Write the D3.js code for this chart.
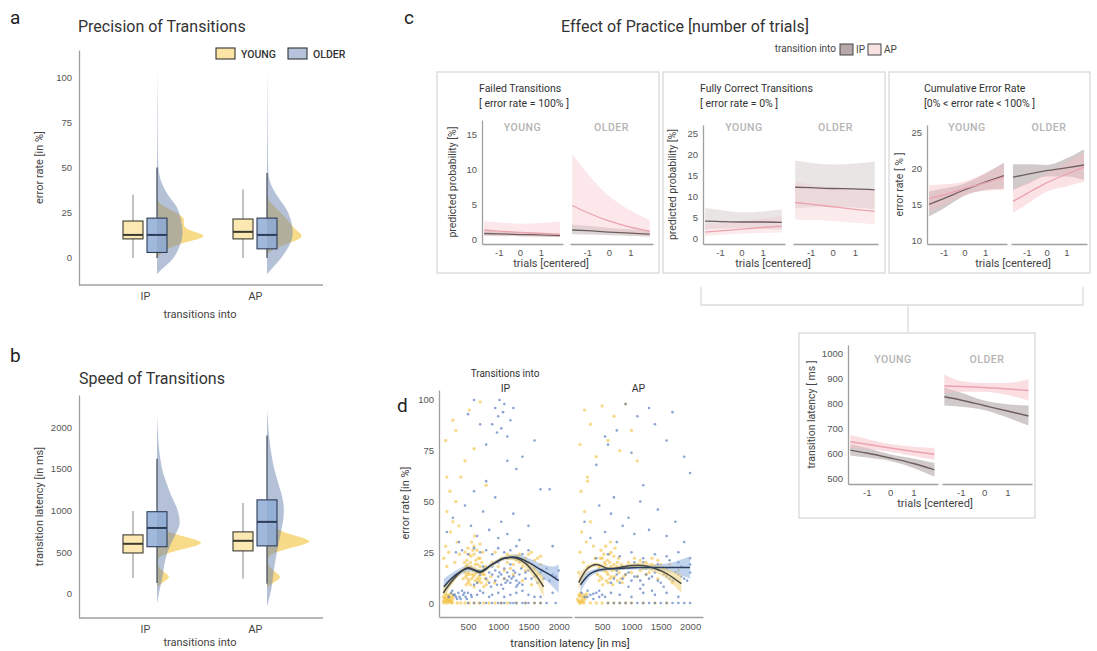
<!DOCTYPE html>
<html>
<head>
<meta charset="utf-8">
<script src="https://cdn.jsdelivr.net/npm/d3@7"></script>
<style>
  body { margin: 0; background: #fff; }
  svg { display: block; font-family: Roboto, "Noto Sans", sans-serif; }
</style>
</head>
<body>
<div id="chart"></div>
<script>
// ---------- data ----------
const transitions = ["IP", "AP"];
const groups = ["YOUNG", "OLDER"];

// panel a: error rate box stats [lower whisker, q1, median, q3, upper whisker]
const errBoxYoung = [[0, 10.5, 12.7, 20.4, 35], [0, 10.5, 14.4, 21.5, 38]];
const errBoxOlder = [[0, 3, 12.7, 22, 50], [0, 5, 12.7, 22, 47]];
// half violin densities [value, relative density]
const errDensYoung = [
  [[0,0],[4,0.25],[8,0.9],[10,1.5],[12,1.92],[14,1.55],[16,1.1],[19,1.0],[22,1.08],[25,0.75],[28,0.3],[31,0.05],[33,0]],
  [[2,0],[5,0.3],[8,0.8],[10,1.2],[12,1.38],[14,1.25],[17,1.0],[20,0.85],[24,0.6],[28,0.3],[32,0.05],[35,0]]
];
const errDensOlder = [
  [[-9,0],[-6,0.2],[-3,0.45],[0,0.65],[4,0.8],[8,0.92],[13,1.0],[18,0.97],[24,0.88],[29,0.75],[33,0.5],[37,0.33],[42,0.15],[47,0.07],[52,0.04],[60,0.03],[75,0.02],[90,0.015],[104,0]],
  [[-9,0],[-5,0.25],[0,0.55],[5,0.8],[10,0.97],[14,1.0],[20,0.95],[26,0.8],[30,0.6],[35,0.35],[40,0.15],[45,0.06],[50,0.04],[60,0.03],[80,0.02],[104,0]]
];
const errTicks = [0, 25, 50, 75, 100];

// panel b: transition latency
const latBoxYoung = [[190, 490, 600, 707, 995], [180, 515, 636, 743, 1090]];
const latBoxOlder = [[130, 565, 790, 985, 1620], [120, 575, 863, 1127, 1900]];
const latDensYoung = [
  [[80,0],[130,0.2],[200,0.65],[260,0.3],[320,0.05],[400,0.02],[450,0.1],[500,0.6],[560,1.5],[610,2.09],[660,1.6],[720,0.7],[780,0.2],[850,0.05],[950,0]],
  [[80,0],[130,0.25],[200,0.7],[260,0.35],[330,0.05],[420,0.03],[480,0.15],[540,0.9],[600,1.7],[630,1.96],[680,1.5],[740,0.7],[800,0.25],[880,0.05],[950,0]]
];
const latDensOlder = [
  [[-120,0],[0,0.08],[100,0.15],[200,0.25],[300,0.28],[400,0.35],[500,0.45],[600,0.6],[700,0.78],[800,0.97],[870,1.0],[950,0.95],[1050,0.85],[1150,0.65],[1300,0.45],[1450,0.25],[1600,0.15],[1750,0.08],[1900,0.04],[2150,0]],
  [[-150,0],[0,0.15],[100,0.22],[300,0.3],[500,0.43],[700,0.57],[900,0.74],[1100,0.74],[1300,0.52],[1500,0.3],[1700,0.17],[1900,0.08],[2100,0.03],[2200,0]]
];
const latTicks = [0, 500, 1000, 1500, 2000];

// panel c: model predictions over centered trials
const trialPts = [-1.7, -1, 0, 1, 1.9];
const trialTicks = [-1, 0, 1];
const failYoungIP = { fit: [0.9,0.85,0.75,0.7,0.6], lo: [0.6,0.55,0.5,0.45,0.4], hi: [1.3,1.2,1.1,1.0,0.9] };
const failYoungAP = { fit: [1.4,1.25,1.05,0.9,0.8], lo: [0.6,0.55,0.5,0.45,0.4], hi: [2.7,2.5,2.3,2.4,2.6] };
const failOlderIP = { fit: [1.4,1.3,1.1,0.95,0.8], lo: [0.8,0.75,0.65,0.55,0.45], hi: [2.2,2.0,1.7,1.5,1.4] };
const failOlderAP = { fit: [4.9,3.9,2.7,1.8,1.2], lo: [1.8,1.6,1.2,0.8,0.5], hi: [12.3,9.5,6.3,4.2,2.8] };
const failTicks = [0, 5, 10, 15];

const corrYoungIP = { fit: [4.2,4.1,4.0,4.0,3.9], lo: [2.2,2.4,2.5,2.4,2.2], hi: [7.3,6.8,6.3,6.5,7.0] };
const corrYoungAP = { fit: [1.6,1.9,2.3,2.7,3.0], lo: [0.7,0.9,1.2,1.4,1.5], hi: [3.5,3.8,4.2,4.8,5.5] };
const corrOlderIP = { fit: [12.2,12.1,11.9,11.8,11.6], lo: [7.2,7.5,7.6,7.4,7.0], hi: [18.5,18.0,17.6,17.8,18.3] };
const corrOlderAP = { fit: [8.6,8.2,7.6,7.0,6.5], lo: [4.6,4.5,4.2,3.8,3.4], hi: [13.5,12.8,12.0,11.7,11.6] };
const corrTicks = [0, 5, 10, 15, 20, 25];

const cumYoungIP = { fit: [15.0,15.8,17.0,18.1,19.0], lo: [13.3,14.4,16.2,17.0,17.2], hi: [16.8,17.2,17.9,19.3,20.8] };
const cumYoungAP = { fit: [15.8,16.3,17.2,18.0,18.8], lo: [14.0,14.9,16.3,16.9,17.0], hi: [17.7,17.8,18.2,19.3,20.6] };
const cumOlderIP = { fit: [18.8,19.2,19.7,20.1,20.5], lo: [17.0,17.8,18.9,18.9,18.4], hi: [20.6,20.6,20.5,21.4,22.7] };
const cumOlderAP = { fit: [15.4,16.5,18.0,19.2,20.2], lo: [13.8,15.0,16.8,17.5,18.2], hi: [17.1,18.0,19.3,20.8,22.2] };
const cumTicks = [10, 15, 20, 25];

const latYoungIP = { fit: [612,600,580,558,533], lo: [590,582,568,540,505], hi: [635,620,595,578,560] };
const latYoungAP = { fit: [645,635,620,606,595], lo: [620,615,605,588,573], hi: [672,656,636,625,620] };
const latOlderIP = { fit: [825,812,790,768,748], lo: [790,785,772,742,710], hi: [862,842,810,795,790] };
const latOlderAP = { fit: [868,866,862,856,850], lo: [838,845,845,832,810], hi: [915,888,880,880,895] };
const practiceLatTicks = [500, 600, 700, 800, 900, 1000];

// panel d: single observations [latency ms, error %]
const dIPYoung = [
  [90,1],[110,3],[130,0.5],[150,2],[170,4],[190,1],[210,3],[230,0],[250,2],[120,5],[160,0],[200,1.5],[140,2.5],[180,3.5],[220,1],[100,0],[260,4],[240,0.5],
  [90,3],[115,2],[135,4],[165,1],[195,2.5],[215,4.5],[245,3],[125,1],[175,2],[205,0.5],
  [320,0],[380,0],[450,0],[520,0],[600,0],[680,0],[760,0],[850,0],[950,0],[1050,0],[1150,0],[1300,0],[1450,0],[1600,0],[1700,0],
  [420,12],[450,15],[470,18],[500,10],[520,14],[540,20],[560,12],[580,16],[600,24],[620,11],[640,15],[660,19],[680,13],[700,22],[720,10],[740,14],[760,17],[780,12],[800,9],
  [430,16],[460,13],[490,19],[510,15],[550,18],[570,14],[610,17],[650,12],[670,22],[710,15],[730,20],[770,14],[790,18],[440,20],[480,14],[520,24],[580,26],[620,19],[660,16],[700,18],[490,12],[540,9],[610,14],[680,11],
  [450,25],[500,27],[550,23],[600,28],[650,26],[700,29],[480,21],[530,17],[590,13],[630,21],[690,16],[740,25],[560,30],[610,33],[470,9],[520,11],[600,8],[660,10],[700,12],[760,8],[820,11],[880,13],[940,10],
  [100,22],[130,28],[150,18],[180,25],[210,35],[250,40],[280,20],[320,30],[360,24],[150,45],[200,55],[300,50],[350,38],
  [130,80],[250,90],[380,62],[450,70],[520,95],[600,76],[700,99],[150,62],[300,85],[800,58],
  [1000,18],[1050,22],[1100,16],[1150,20],[1200,23],[1250,19],[1300,21],[1350,24],[1400,18],[1450,22],[1500,20],[1550,25],[1600,17],[1650,22],[1700,19],[1100,12],[1250,14],[1400,11],[1550,9],[900,20],[950,25],
  [1200,17],[1300,23],[1400,21],[1500,24],[1600,21],[1700,23],[1150,24],[1350,20],[1450,16],[1650,14]
];
const dIPOlder = [
  [180,3],[220,5],[260,4],[300,3],[340,5],[380,2],[420,4],[460,3],[500,5],[240,6],[320,2],[400,6],
  [280,4],[360,3],[440,5],[480,2],[560,3],[650,4],[750,5],[900,4],[1100,3],[1300,5],[1500,4],[1700,3],[1900,5],
  [500,0],[600,0],[700,0],[800,0],[900,0],[1000,0],[1100,0],[1200,0],[1300,0],[1400,0],[1500,0],[1600,0],[1700,0],[1800,0],[1950,0],[1050,0],[1250,0],[1450,0],
  [800,12],[850,10],[900,14],[950,11],[1000,13],[1050,9],[1100,12],[1150,15],[1200,10],[1250,13],[1300,11],[1350,14],[1400,9],[1450,12],[1500,16],[900,18],[1000,20],[1100,17],[1200,19],[1300,8],[700,14],[650,10],[750,18],[600,9],[1600,13],[1700,15],[1800,17],[1900,14],[2000,16],
  [850,15],[950,16],[1050,14],[1150,11],[1250,16],[1350,10],[1450,15],[1550,12],[1650,10],[1750,12],[1850,11],[1950,13],[880,8],[980,9],[1080,7],[1180,13],[1280,15],[1380,17],[1020,15],[1120,10],[1220,12],[1320,9],
  [300,25],[400,26],[500,24],[600,27],[700,25],[800,26],[900,24],[1000,27],[1100,25],[1200,26],[1300,28],[1400,24],[1500,26],
  [150,35],[250,42],[350,30],[450,48],[550,38],[650,33],[750,45],[850,36],[950,52],[1050,40],[1150,34],[1250,44],[1350,31],[1500,38],[1700,56],[1900,28],[600,55],[800,60],[1000,32],
  [900,88],[950,96],[1000,92],[1020,100],[1050,86],[1080,94],[1100,98],[1150,82],[1200,90],[1250,96],[980,84],[1300,66],[1400,72],[1600,80],[1850,56],[700,88],[500,93],[600,100],[800,78],[1150,70],
  [550,4],[700,6],[850,3],[1000,5],[1200,4],[1400,6],[1600,3]
];
const dAPYoung = [
  [80,2],[100,4],[120,1],[140,3],[160,0.5],[180,2.5],[200,4],[110,0],[150,1.5],[190,0],[220,3],[130,5],
  [90,1],[115,3.5],[135,0],[155,4],[175,1],[210,2],[240,4.5],
  [300,0],[400,0],[500,0],[600,0],[700,0],[800,0],[900,0],[1000,0],[1200,0],[1400,0],[1600,0],
  [420,14],[460,18],[500,12],[540,20],[580,15],[620,24],[660,13],[700,19],[740,16],[780,22],[820,12],[860,17],[900,14],[480,26],[560,28],[640,30],[720,27],[600,10],[680,9],[760,11],[840,10],[500,22],[550,16],[650,18],[450,11],[950,20],[1000,15],[1050,18],[1100,13],[1150,21],[1200,17],
  [440,17],[470,13],[520,16],[560,19],[600,14],[630,20],[670,16],[710,13],[750,18],[790,15],[830,19],[870,13],[470,22],[530,24],[590,21],[650,25],[700,23],[760,20],[510,9],[570,11],[630,12],
  [100,15],[120,25],[150,35],[180,20],[200,45],[230,30],[260,18],[300,40],[350,28],[140,55],[250,60],[380,22],
  [120,78],[200,95],[300,88],[400,72],[500,97],[600,80],[700,92],[800,75],[250,62],[900,98],[1000,85],[1100,70],
  [1250,20],[1300,15],[1350,22],[1400,18],[1450,12],[1500,19],[1600,14],[1700,10],[1800,16],
  [1050,22],[1150,16],[1250,14],[1350,19],[1450,21],[1550,17],[1650,19]
];
const dAPOlder = [
  [150,5],[200,3],[250,6],[300,4],[350,2],[400,5],[450,3],[500,4],
  [250,3],[350,4.5],[450,6],[550,3],[650,5],[800,4],[1000,3],[1200,5],[1400,4],[1600,5],[1800,3],
  [600,0],[700,0],[800,0],[900,0],[1000,0],[1100,0],[1200,0],[1300,0],[1400,0],[1500,0],[1600,0],[1700,0],[1800,0],[1900,0],[2000,0],
  [700,12],[800,10],[900,14],[1000,11],[1100,13],[1200,9],[1300,12],[1400,15],[1500,10],[1600,13],[1700,11],[1800,14],[1900,12],[2000,15],[850,18],[1050,20],[1250,17],[1450,19],[1650,21],[1850,18],[950,8],[1150,7],[1350,6],[1550,8],[750,16],[650,10],
  [750,14],[850,12],[950,15],[1050,13],[1150,11],[1250,14],[1350,13],[1450,11],[1550,14],[1650,12],[1750,15],[1850,13],[1950,11],[800,17],[1000,18],[1200,20],[1400,18],[1600,17],[1800,20],[2000,19],
  [400,22],[600,24],[800,23],[1000,25],[1200,22],[1400,24],[1600,23],[1800,25],[2000,22],
  [200,40],[300,32],[450,48],[550,35],[650,44],[750,30],[850,38],[950,42],[1050,34],[1150,50],[1300,36],[1450,46],[1600,33],[1750,40],[1900,30],[700,52],[1200,58],
  [400,68],[600,78],[750,85],[900,98],[1100,92],[1300,96],[1400,88],[1600,80],[1700,94],[1900,72],[2000,64],[1000,74],[550,82]
];
// smooth fits [latency, fit, lower, upper]
const dIPYoungFit = [[90,5,2,8],[300,13,11.5,14.5],[500,17.5,16.5,18.5],[700,15,14,16],[900,19,18,20],[1100,22,21,23],[1300,22,20.5,23.5],[1450,19.5,17.5,21.5],[1600,14.5,11.5,17.5],[1750,8,3,13]];
const dIPOlderFit = [[100,8,4,12],[300,14,12,16],[500,17,15.5,18.5],[700,15.5,14.5,16.5],[900,19,18,20],[1100,22,21,23],[1300,22.5,21,24],[1500,20,18,22],[1700,16.5,13.5,19.5],[1900,13,8,18],[2000,11,5,19]];
const dAPYoungFit = [[100,10,6,14],[250,17,15.5,18.5],[400,19,18,20],[600,17,16,18],[800,17.5,16.5,18.5],[1000,18.5,17.5,19.5],[1200,18.5,17,20],[1400,17,15,19],[1600,14.5,12,17],[1850,9.5,5,14]];
const dAPOlderFit = [[130,9,5,13],[300,14.5,13,16],[500,16.5,15.5,17.5],[800,17,16.2,17.8],[1100,17.5,16.5,18.5],[1400,17.5,16,19],[1700,17.5,15,20],[2000,17.5,12,23]];
const dLatTicks = [500, 1000, 1500, 2000];
const dErrTicks = [0, 25, 50, 75, 100];

// ---------- colours ----------
const yellow = "#f5cf62", yellowBox = "#fce4a4", blue = "#6a84b0", blueBox = "#8eabd6";
const ipLine = "#6e5e5e", ipBand = "#9a8a8a", apLine = "#eba3ad", apBand = "#f6bec5";
const fmt = d => String(d).replace("-", "-");

const svg = d3.select("#chart").append("svg")
  .attr("width", 1097).attr("height", 651)
  .style("background", "#fff");

function txt(x, y, s, size, opts = {}) {
  const t = svg.append("text").attr("x", x).attr("y", y).text(s)
    .style("font-size", size + "px").attr("fill", opts.fill || "#333")
    .attr("text-anchor", opts.anchor || "start");
  if (opts.rotate) t.attr("transform", `rotate(-90,${x},${y})`);
  if (opts.weight) t.style("font-weight", opts.weight);
  if (opts.spacing) t.style("letter-spacing", opts.spacing);
  return t;
}

function yAxis(scale, x, ticks, pad = 6) {
  const ax = svg.append("g").attr("transform", `translate(${x},0)`)
    .call(d3.axisLeft(scale).tickValues(ticks).tickFormat(fmt).tickSize(0).tickPadding(pad).tickSizeOuter(0));
  ax.select(".domain").attr("stroke", "#a0a0a0").attr("stroke-width", 1.3);
  ax.selectAll("text").attr("fill", "#555").style("font-size", "9.5px");
  return ax;
}
function xAxis(scale, y, ticks, keepDomain = true, pad = 6) {
  const ax = svg.append("g").attr("transform", `translate(0,${y})`)
    .call(d3.axisBottom(scale).tickValues(ticks).tickFormat(fmt).tickSize(0).tickPadding(pad).tickSizeOuter(0));
  if (keepDomain) ax.select(".domain").attr("stroke", "#a0a0a0").attr("stroke-width", 1.3);
  else ax.select(".domain").remove();
  ax.selectAll("text").attr("fill", "#555").style("font-size", "9.5px");
  return ax;
}

function halfViolin(dens, y, w, x0, fill, op) {
  svg.append("path").datum(dens)
    .attr("d", d3.area().curve(d3.curveBasis).y(d => y(d[0])).x0(x0).x1(d => x0 + w(d[1])))
    .attr("fill", fill).attr("fill-opacity", op);
}
function boxPlot(s, y, cx, bw, fill, stroke, wcol) {
  svg.append("line").attr("x1", cx).attr("x2", cx).attr("y1", y(s[0])).attr("y2", y(s[1])).attr("stroke", wcol).attr("stroke-width", 1.2);
  svg.append("line").attr("x1", cx).attr("x2", cx).attr("y1", y(s[3])).attr("y2", y(s[4])).attr("stroke", wcol).attr("stroke-width", 1.2);
  svg.append("rect").attr("x", cx - bw / 2).attr("width", bw).attr("y", y(s[3])).attr("height", y(s[1]) - y(s[3]))
    .attr("fill", fill).attr("fill-opacity", 0.85).attr("stroke", stroke).attr("stroke-width", 1.1);
  svg.append("line").attr("x1", cx - bw / 2).attr("x2", cx + bw / 2).attr("y1", y(s[2])).attr("y2", y(s[2])).attr("stroke", stroke).attr("stroke-width", 2);
}

// ---------- panels a & b ----------
function rainPanel(cfg) {
  const x = d3.scalePoint().domain(transitions).range([145, 255]);
  const y = d3.scaleLinear().domain(cfg.domain).range(cfg.range);
  const w = d3.scaleLinear().domain([0, 1]).range([0, cfg.wmax]);
  transitions.forEach((t, i) => {
    const cy = x(t) - 12, co = x(t) + 12;
    halfViolin(cfg.densY[i], y, w, co, yellow, 0.75);
    halfViolin(cfg.densO[i], y, w, co, blue, 0.5);
    boxPlot(cfg.boxY[i], y, cy, 20, yellowBox, "#3b3a30", "#9a9a9a");
    boxPlot(cfg.boxO[i], y, co, 20, blueBox, "#2d3d58", "#3c4658");
  });
  yAxis(y, 79, cfg.ticks, 7);
  xAxis(x, cfg.range[0], transitions, false, 8).selectAll("text").style("font-size", "10.5px").attr("fill", "#444");
  svg.append("line").attr("x1", 79).attr("x2", 323).attr("y1", cfg.range[0]).attr("y2", cfg.range[0])
    .attr("stroke", "#a0a0a0").attr("stroke-width", 1.3);
  txt(200, cfg.range[0] + cfg.xlabOff, "transitions into", 11, { anchor: "middle", fill: "#444" });
  txt(cfg.ylabX, (cfg.range[0] + cfg.range[1]) / 2, cfg.ylabel, 11, { anchor: "middle", rotate: true, fill: "#444" });
}

txt(10, 24, "a", 19, { fill: "#222" });
txt(78, 32, "Precision of Transitions", 16);
rainPanel({ domain: [-15, 115], range: [285, 50], wmax: 26, densY: errDensYoung, densO: errDensOlder,
  boxY: errBoxYoung, boxO: errBoxOlder, ticks: errTicks, ylabel: "error rate [in %]", ylabX: 43, xlabOff: 33 });
// legend
[["YOUNG", yellowBox, 216], ["OLDER", "#b7c3dd", 288]].forEach(([lab, fill, lx]) => {
  svg.append("rect").attr("x", lx).attr("y", 48).attr("width", 19).attr("height", 11)
    .attr("fill", fill).attr("stroke", "#333").attr("stroke-width", 1.1);
  txt(lx + 25, 58, lab, 10.5, { fill: "#333", weight: 500 });
});

txt(10, 362, "b", 19, { fill: "#222" });
txt(79, 384, "Speed of Transitions", 16);
rainPanel({ domain: [-290, 2385], range: [618, 395], wmax: 23, densY: latDensYoung, densO: latDensOlder,
  boxY: latBoxYoung, boxO: latBoxOlder, ticks: latTicks, ylabel: "transition latency [in ms]", ylabX: 43, xlabOff: 28 });

// ---------- panel c ----------
txt(404, 24, "c", 19, { fill: "#222" });
txt(685, 32, "Effect of Practice [number of trials]", 16, { anchor: "middle" });
txt(836, 52, "transition into", 10, { anchor: "end", fill: "#444" });
svg.append("rect").attr("x", 840).attr("y", 44).attr("width", 13).attr("height", 11).attr("fill", "#b7a8a9").attr("stroke", "#444");
txt(856, 53, "IP", 10, { fill: "#444" });
svg.append("rect").attr("x", 868).attr("y", 44).attr("width", 13).attr("height", 11).attr("fill", "#f9e2e2").attr("stroke", "#444");
txt(884, 53, "AP", 10, { fill: "#444" });

// connector bracket
svg.append("path").attr("d", "M701,287V305H1083V287M908,305V333")
  .attr("fill", "none").attr("stroke", "#dcdcdc").attr("stroke-width", 1.3);

function practicePanel(cfg) {
  const [bx0, by0, bx1, by1] = cfg.box;
  svg.append("rect").attr("x", bx0).attr("y", by0).attr("width", bx1 - bx0).attr("height", by1 - by0)
    .attr("fill", "none").attr("stroke", "#dedede").attr("stroke-width", 1.5);
  const y = d3.scaleLinear().domain(cfg.domain).range(cfg.range);
  cfg.titles.forEach((s, i) => txt(cfg.facets[0][0] - 3, cfg.titleY + i * 15, s, 10.5, { fill: "#333" }));
  groups.forEach((g, gi) => {
    const x = d3.scaleLinear().domain([-1.8, 2.05]).range(cfg.facets[gi]);
    const [ip, ap] = cfg.series[gi];
    const band = s => d3.area().curve(d3.curveMonotoneX).x((d, i) => x(trialPts[i])).y0((d, i) => y(s.lo[i])).y1((d, i) => y(s.hi[i]))(trialPts);
    const line = s => d3.line().curve(d3.curveMonotoneX).x((d, i) => x(trialPts[i])).y((d, i) => y(s.fit[i]))(trialPts);
    svg.append("path").attr("d", band(ip)).attr("fill", ipBand).attr("fill-opacity", cfg.ipOp);
    svg.append("path").attr("d", band(ap)).attr("fill", apBand).attr("fill-opacity", cfg.apOp);
    svg.append("path").attr("d", line(ip)).attr("fill", "none").attr("stroke", ipLine).attr("stroke-width", 1.3);
    svg.append("path").attr("d", line(ap)).attr("fill", "none").attr("stroke", apLine).attr("stroke-width", 1.3);
    xAxis(x, cfg.range[0], trialTicks, true, 5);
    txt((cfg.facets[gi][0] + cfg.facets[gi][1]) / 2, cfg.facetLabY, g, 10.5, { anchor: "middle", fill: "#b4b4b4", weight: 500, spacing: "0.5px" });
  });
  yAxis(y, cfg.facets[0][0], cfg.ticks, 5);
  txt(cfg.xlabX, cfg.range[0] + 23, "trials [centered]", 11, { anchor: "middle", fill: "#444" });
  txt(cfg.ylabX, (cfg.range[0] + cfg.range[1]) / 2, cfg.ylabel, 10.5, { anchor: "middle", rotate: true, fill: "#444" });
}

practicePanel({ box: [437, 72, 659, 273], facets: [[482, 563], [570, 653]], domain: [-0.6, 17.1], range: [244, 120],
  ticks: failTicks, titles: ["Failed Transitions", "[ error rate = 100% ]"], titleY: 92, facetLabY: 131,
  series: [[failYoungIP, failYoungAP], [failOlderIP, failOlderAP]], ipOp: 0.35, apOp: 0.35,
  ylabel: "predicted probability [%]", ylabX: 456, xlabX: 551 });
practicePanel({ box: [663, 72, 885, 273], facets: [[703, 785], [793, 878]], domain: [-1.2, 26.9], range: [244, 125],
  ticks: corrTicks, titles: ["Fully Correct Transitions", "[ error rate = 0% ]"], titleY: 92, facetLabY: 131,
  series: [[corrYoungIP, corrYoungAP], [corrOlderIP, corrOlderAP]], ipOp: 0.22, apOp: 0.3,
  ylabel: "predicted probability [%]", ylabX: 676, xlabX: 773 });
practicePanel({ box: [889, 72, 1090, 273], facets: [[927, 1007], [1011, 1087]], domain: [9.44, 26.1], range: [244, 125],
  ticks: cumTicks, titles: ["Cumulative Error Rate", "[0% < error rate < 100% ]"], titleY: 92, facetLabY: 131,
  series: [[cumYoungIP, cumYoungAP], [cumOlderIP, cumOlderAP]], ipOp: 0.45, apOp: 0.45,
  ylabel: "error rate [ % ]", ylabX: 903, xlabX: 1013 });
practicePanel({ box: [799, 333, 1035, 518], facets: [[848, 938], [942, 1032]], domain: [476, 1032], range: [484, 345],
  ticks: practiceLatTicks, titles: [], titleY: 0, facetLabY: 363,
  series: [[latYoungIP, latYoungAP], [latOlderIP, latOlderAP]], ipOp: 0.45, apOp: 0.5,
  ylabel: "transition latency [ ms ]", ylabX: 815, xlabX: 935 });

// ---------- panel d ----------
txt(397, 412, "d", 19, { fill: "#222" });
txt(505, 377, "Transitions into", 10, { anchor: "middle", fill: "#333" });
const yD = d3.scaleLinear().domain([-6.9, 104.9]).range([617, 390]);
const dFacets = [[439, 572], [574, 703]];
const dPts = [[dIPYoung, dIPOlder], [dAPYoung, dAPOlder]];
const dFits = [[dIPYoungFit, dIPOlderFit], [dAPYoungFit, dAPOlderFit]];
transitions.forEach((t, ti) => {
  const x = d3.scaleLinear().domain([20, 2220]).range(dFacets[ti]);
  const [py, po] = dPts[ti];
  svg.append("g").selectAll("circle").data(py).join("circle")
    .attr("cx", d => x(d[0])).attr("cy", d => yD(d[1])).attr("r", 1.7)
    .attr("fill", "#f2c240").attr("fill-opacity", 0.6);
  svg.append("g").selectAll("circle").data(po).join("circle")
    .attr("cx", d => x(d[0])).attr("cy", d => yD(d[1])).attr("r", 1.3)
    .attr("fill", "#5a7ec0").attr("fill-opacity", 0.7);
  const [fy, fo] = dFits[ti];
  const band = d3.area().curve(d3.curveCatmullRom).x(d => x(d[0])).y0(d => yD(d[2])).y1(d => yD(d[3]));
  const line = d3.line().curve(d3.curveCatmullRom).x(d => x(d[0])).y(d => yD(d[1]));
  svg.append("path").attr("d", band(fo)).attr("fill", "#8fb0df").attr("fill-opacity", 0.55);
  svg.append("path").attr("d", band(fy)).attr("fill", "#f2d27a").attr("fill-opacity", 0.55);
  svg.append("path").attr("d", line(fy)).attr("fill", "none").attr("stroke", "#4a4a44").attr("stroke-width", 1.5);
  svg.append("path").attr("d", line(fo)).attr("fill", "none").attr("stroke", "#2b3d5a").attr("stroke-width", 1.5);
  xAxis(x, 617, dLatTicks, true, 6);
  txt((dFacets[ti][0] + dFacets[ti][1]) / 2, 392, t, 10.5, { anchor: "middle", fill: "#333" });
});
yAxis(yD, 439, dErrTicks, 5);
txt(570, 647, "transition latency [in ms]", 11, { anchor: "middle", fill: "#333" });
txt(409, 503, "error rate [in %]", 11, { anchor: "middle", rotate: true, fill: "#444" });
</script>
</body>
</html>
